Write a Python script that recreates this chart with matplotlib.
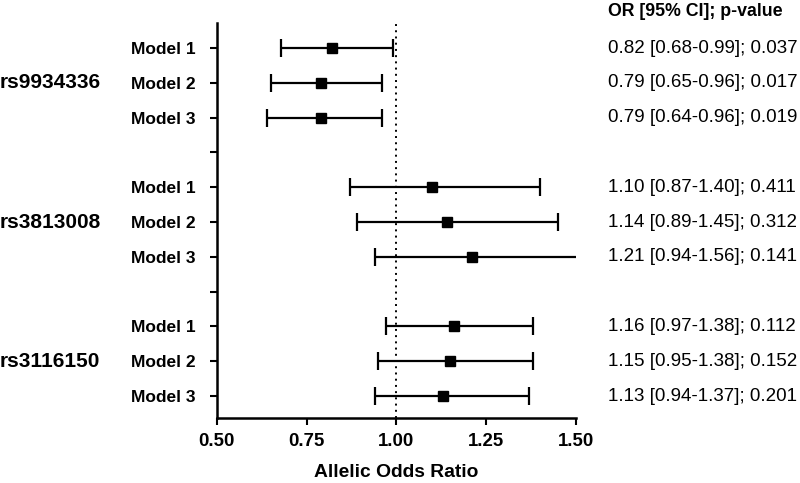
import matplotlib
matplotlib.use('agg')
import matplotlib.pyplot as plt
import matplotlib.transforms as mtransforms

plt.rcParams['font.family'] = ['Liberation Sans', 'DejaVu Sans']

snps = ['rs9934336', 'rs3813008', 'rs3116150']
models = ['Model 1', 'Model 2', 'Model 3']
odds = [0.82, 0.79, 0.79, 1.10, 1.14, 1.21, 1.16, 1.15, 1.13]
ci_low = [0.68, 0.65, 0.64, 0.87, 0.89, 0.94, 0.97, 0.95, 0.94]
ci_high = [0.99, 0.96, 0.96, 1.40, 1.45, 1.56, 1.38, 1.38, 1.37]
pvals = ['0.037', '0.017', '0.019', '0.411', '0.312', '0.141', '0.112', '0.152', '0.201']

# row positions: 3 models per snp, one blank row between groups
rows = []
for g in range(len(snps)):
    for m in range(len(models)):
        rows.append(g * 4 + m)

fig = plt.figure(figsize=(8, 4.83), dpi=100)
ax = fig.add_axes([0.271, 0.1346, 0.449, 0.8177])

err = [[o - lo for o, lo in zip(odds, ci_low)], [hi - o for o, hi in zip(odds, ci_high)]]
ax.errorbar(odds, rows, xerr=err, fmt='s', color='black', ms=7, lw=1.6,
            capsize=6.5, capthick=1.6, elinewidth=1.6)
ax.axvline(1.0, color='black', ls=(0, (1, 2.2)), lw=1.4)

ax.set_xlim(0.5, 1.5)
ax.set_ylim(10.63, -0.72)
ax.set_xticks([0.5, 0.75, 1.0, 1.25, 1.5])
ax.set_xticklabels(['0.50', '0.75', '1.00', '1.25', '1.50'], fontsize=13.4, fontweight='bold')
yt = list(range(11))
ylab = []
for i in yt:
    ylab.append(models[i % 4] if i % 4 < 3 else '')
ax.set_yticks(yt)
ax.set_yticklabels(ylab, fontsize=12.5, fontweight='bold')
ax.tick_params(width=1.5, length=5, pad=10)
ax.tick_params(axis='x', pad=6)
for s in ['top', 'right']:
    ax.spines[s].set_visible(False)
for s in ['left', 'bottom']:
    ax.spines[s].set_linewidth(1.8)
ax.set_xlabel('Allelic Odds Ratio', fontsize=13.9, fontweight='bold', labelpad=10)

trans = mtransforms.blended_transform_factory(fig.transFigure, ax.transData)
for g, name in enumerate(snps):
    fig.text(0.0, g * 4 + 1, name, transform=trans, fontsize=15, fontweight='bold',
             va='center', ha='left')

for r, o, lo, hi, p in zip(rows, odds, ci_low, ci_high, pvals):
    fig.text(0.76, r, '%.2f [%.2f-%.2f]; %s' % (o, lo, hi, p), transform=trans,
             fontsize=13.5, va='center', ha='left')
fig.text(0.76, 1 - 12 / 483, 'OR [95% CI]; p-value', fontsize=12.8, fontweight='bold',
         va='center', ha='left')

fig.savefig('out.png', dpi=100)
